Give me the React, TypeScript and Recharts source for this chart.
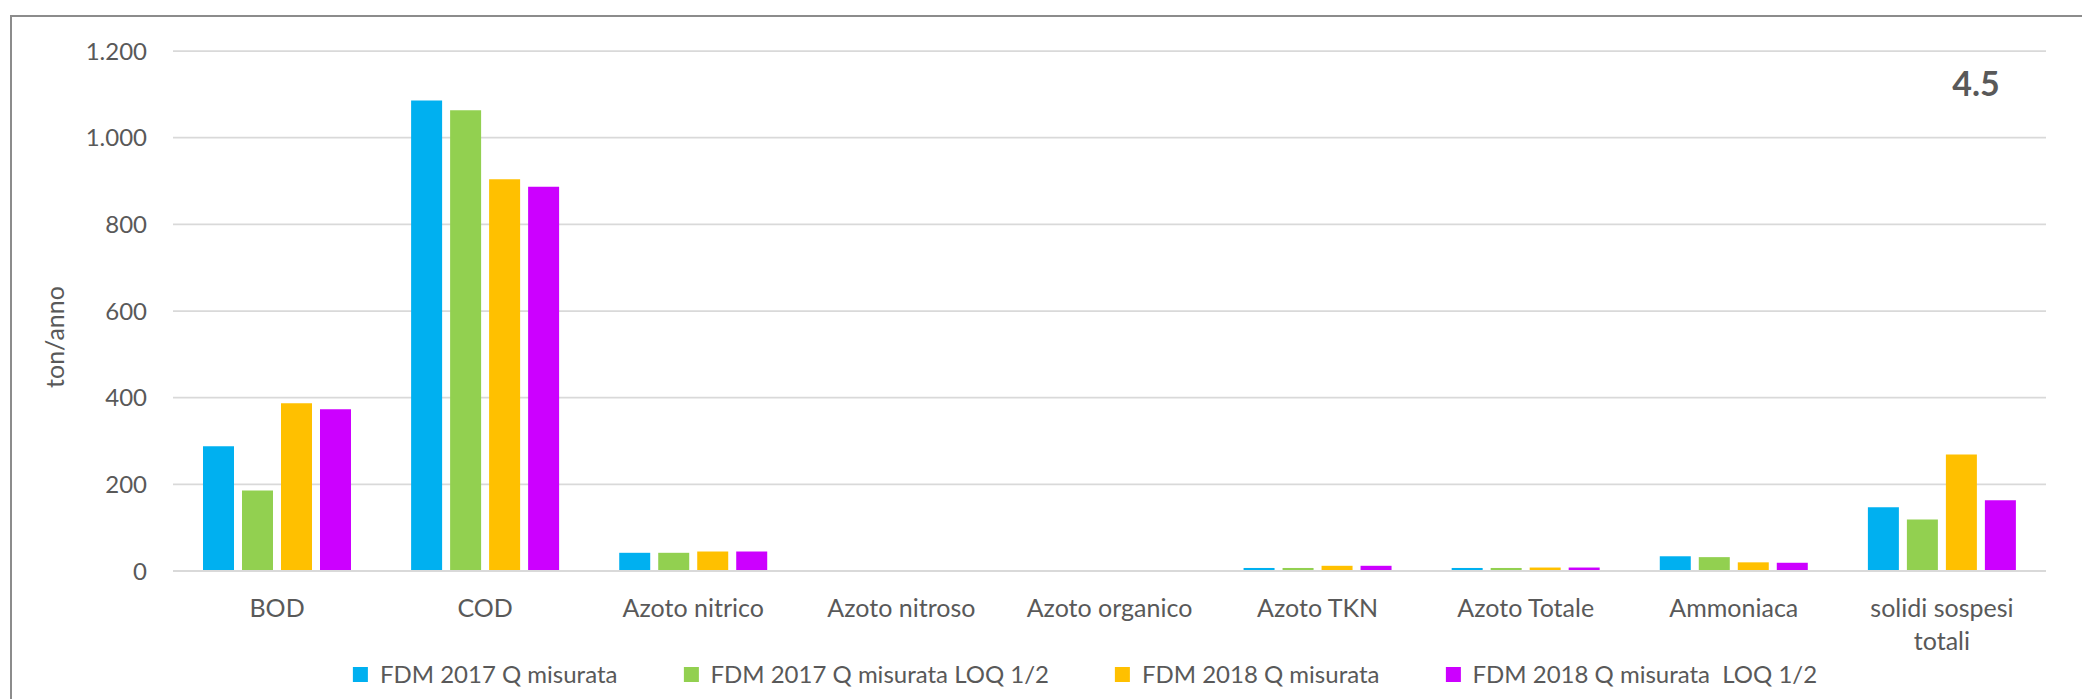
import { BarChart, Bar, XAxis, YAxis, CartesianGrid } from 'recharts';

const categories = [
  'BOD',
  'COD',
  'Azoto nitrico',
  'Azoto nitroso',
  'Azoto organico',
  'Azoto TKN',
  'Azoto Totale',
  'Ammoniaca',
  'solidi sospesi totali',
];

const fdm2017 = [288, 1086, 42, 0, 0, 7, 7, 34, 147];
const fdm2017Loq = [186, 1063, 42, 0, 0, 7, 7, 32, 119];
const fdm2018 = [387, 904, 45, 0, 0, 12, 8, 20, 269];
const fdm2018Loq = [373, 887, 45, 0, 0, 12, 8, 19, 163];

const yTicks = [0, 200, 400, 600, 800, 1000, 1200];

const series = [
  { key: 'a', name: 'FDM 2017 Q misurata', color: '#00B0F0', values: fdm2017 },
  { key: 'b', name: 'FDM 2017 Q misurata LOQ 1/2', color: '#92D050', values: fdm2017Loq },
  { key: 'c', name: 'FDM 2018 Q misurata', color: '#FFC000', values: fdm2018 },
  { key: 'd', name: 'FDM 2018 Q misurata  LOQ 1/2', color: '#CC00FF', values: fdm2018Loq },
];

const data = categories.map((name, i) => {
  const row: Record<string, string | number> = { name };
  series.forEach((s) => {
    row[s.key] = s.values[i];
  });
  return row;
});

const FONT = 'Lato, "Open Sans", sans-serif';
const TEXT = '#595959';

// thousands separator like the italian excel
const fmt = (v: number) => String(v).replace(/\B(?=(\d{3})+(?!\d))/g, '.');

const wrap = (label: string, max = 16) => {
  const lines: string[] = [];
  let cur = '';
  label.split(' ').forEach((w) => {
    if (cur && (cur + ' ' + w).length > max) {
      lines.push(cur);
      cur = w;
    } else {
      cur = cur ? cur + ' ' + w : w;
    }
  });
  if (cur) lines.push(cur);
  return lines;
};

const CategoryTick = (props: any) => {
  const { x, y, payload } = props;
  const lines = wrap(String(payload.value));
  return (
    <text x={x} y={y} textAnchor="middle" fill={TEXT} fontSize={25} fontFamily={FONT}>
      {lines.map((l, i) => (
        <tspan key={i} x={x} dy={i === 0 ? '0.71em' : 33}>
          {l}
        </tspan>
      ))}
    </text>
  );
};

const App = () => {
  return (
    <div style={{ position: 'relative', width: 2082, height: 699, overflow: 'hidden', background: '#fff' }}>
      <style>{'body{margin:0}'}</style>
      <div
        style={{
          position: 'absolute',
          left: 10,
          top: 15,
          width: 2100,
          height: 720,
          border: '2px solid #8c8c8c',
        }}
      />
      <div style={{ position: 'absolute', left: 0, top: 0 }}>
        <BarChart
          width={2082}
          height={699}
          data={data}
          margin={{ top: 51, right: 36, left: 73, bottom: 68 }}
          barSize={31}
          barGap={8}
        >
          <CartesianGrid vertical={false} stroke="#d9d9d9" strokeWidth={1.75} />
          <XAxis
            dataKey="name"
            height={60}
            interval={0}
            tickSize={0}
            tickMargin={28}
            axisLine={{ stroke: '#d9d9d9', strokeWidth: 2 }}
            tickLine={false}
            tick={<CategoryTick />}
          />
          <YAxis
            width={100}
            domain={[0, 1200]}
            ticks={yTicks}
            tickFormatter={fmt}
            tickSize={0}
            tickMargin={26}
            axisLine={false}
            tickLine={false}
            tick={{ fill: TEXT, fontSize: 24, fontFamily: FONT }}
          />
          {series.map((s) => (
            <Bar key={s.key} dataKey={s.key} name={s.name} fill={s.color} isAnimationActive={false} />
          ))}
        </BarChart>
      </div>
      <svg style={{ position: 'absolute', left: 0, top: 0 }} width={120} height={699}>
        <text
          x={0}
          y={0}
          transform="translate(54,337) rotate(-90)"
          textAnchor="middle"
          dominantBaseline="central"
          fill={TEXT}
          fontSize={25}
          fontFamily={FONT}
        >
          ton/anno
        </text>
      </svg>
      <div
        style={{
          position: 'absolute',
          left: 1976,
          top: 83,
          transform: 'translate(-50%, -50%)',
          fontFamily: FONT,
          fontWeight: 700,
          fontSize: 34,
          color: TEXT,
          lineHeight: 1,
        }}
      >
        4.5
      </div>
      <div
        style={{
          position: 'absolute',
          left: 1085,
          top: 674,
          transform: 'translate(-50%, -50%)',
          display: 'flex',
          alignItems: 'center',
          whiteSpace: 'pre',
          fontFamily: FONT,
          fontSize: 24,
          color: TEXT,
          lineHeight: 1,
        }}
      >
        {series.map((s, i) => (
          <div key={s.key} style={{ display: 'flex', alignItems: 'center', marginLeft: i === 0 ? 0 : 66 }}>
            <span style={{ width: 15, height: 15, background: s.color, marginRight: 12, display: 'inline-block' }} />
            <span>{s.name}</span>
          </div>
        ))}
      </div>
    </div>
  );
};

export default App;
